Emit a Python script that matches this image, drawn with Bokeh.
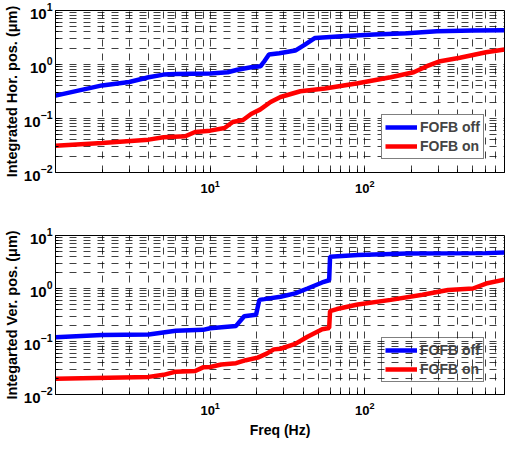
from bokeh.plotting import figure
from bokeh.layouts import column
from bokeh.models import FixedTicker, Range1d
from bokeh.embed import file_html
from bokeh.resources import INLINE

# ---- data ----
hor_off_f = [1, 2, 3, 4, 5, 6, 10, 13, 15, 18.4, 21.2, 22.4, 24, 28, 35.5, 41, 47.7, 70.6, 115, 188, 292, 500, 800]
hor_off_v = [0.265, 0.41, 0.475, 0.58, 0.65, 0.67, 0.68, 0.72, 0.80, 0.89, 0.93, 1.15, 1.53, 1.62, 1.81, 2.34, 3.1, 3.34, 3.59, 3.8, 4.14, 4.26, 4.3]

hor_on_f = [1, 2, 4, 5, 6.9, 8, 10, 12.4, 14, 16.3, 18.4, 21, 24.6, 28.5, 38.3, 55.2, 90, 147, 207, 252, 307, 412, 608, 800]
hor_on_v = [0.0313, 0.0352, 0.0406, 0.0448, 0.0468, 0.0563, 0.0596, 0.0667, 0.086, 0.094, 0.121, 0.146, 0.202, 0.25, 0.32, 0.358, 0.45, 0.58, 0.72, 0.93, 1.15, 1.33, 1.69, 1.89]

ver_off_f = [1, 2, 4, 6, 9, 10, 14.7, 16.6, 19.8, 20.8, 22.4, 28.5, 35.5, 42.6, 53, 58.8, 59.6, 90, 188, 608, 800]
ver_off_v = [0.12, 0.132, 0.136, 0.159, 0.166, 0.178, 0.197, 0.30, 0.32, 0.61, 0.63, 0.70, 0.81, 1.0, 1.30, 1.43, 3.98, 4.27, 4.59, 4.65, 4.8]

ver_on_f = [1, 4, 5, 6, 8, 9, 10, 11.8, 14.7, 17, 20.3, 23.2, 25.8, 28.5, 35.5, 42.6, 53, 58.8, 59.6, 66, 90, 147, 236, 345, 500, 608, 800]
ver_on_v = [0.0198, 0.0215, 0.0235, 0.027, 0.0277, 0.0325, 0.033, 0.0369, 0.039, 0.0444, 0.0497, 0.059, 0.071, 0.073, 0.09, 0.123, 0.17, 0.18, 0.373, 0.41, 0.50, 0.61, 0.76, 0.94, 1.0, 1.24, 1.47]

x_major = [10, 100]
x_minor = [2, 3, 4, 5, 6, 7, 8, 9, 20, 30, 40, 50, 60, 70, 80, 90, 200, 300, 400, 500, 600, 700, 800]
y_major = [0.01, 0.1, 1, 10]
y_minor = [k * 10.0 ** e for e in (-2, -1, 0) for k in range(2, 10)]

FONT = "Liberation Sans"


def make_fig(height, btop, bbot, ylabel, xlabel):
    p = figure(width=506, height=height, x_axis_type="log", y_axis_type="log",
               x_range=Range1d(1, 800), y_range=Range1d(0.01, 10),
               output_backend="svg", toolbar_location=None,
               min_border_left=49, min_border_right=2,
               min_border_top=btop, min_border_bottom=bbot)
    p.xaxis.ticker = FixedTicker(ticks=x_major, minor_ticks=x_minor)
    p.yaxis.ticker = FixedTicker(ticks=y_major, minor_ticks=y_minor)
    for ax in (p.xaxis[0], p.yaxis[0]):
        ax.major_tick_in = 5
        ax.major_tick_out = 0
        ax.minor_tick_in = 3
        ax.minor_tick_out = 0
        ax.axis_line_color = "black"
        ax.major_tick_line_color = "black"
        ax.minor_tick_line_color = "black"
        ax.major_label_text_font = FONT
        ax.major_label_text_font_style = "bold"
        ax.major_label_text_color = "black"
        ax.axis_label_text_font = FONT
        ax.axis_label_text_font_style = "bold"
        ax.axis_label_text_color = "black"
    p.xaxis.major_label_text_font_size = "13px"
    p.yaxis.major_label_text_font_size = "15px"
    p.xaxis.axis_label_text_font_size = "14px"
    p.yaxis.axis_label_text_font_size = "14.5px"
    p.yaxis.major_label_standoff = 3
    p.xaxis.major_label_standoff = 7
    p.yaxis.axis_label_standoff = 1
    p.xaxis.axis_label_standoff = 4
    p.yaxis.axis_label = ylabel
    if xlabel:
        p.xaxis.axis_label = xlabel
    for g in (p.xgrid[0], p.ygrid[0]):
        g.grid_line_color = "black"
        g.grid_line_alpha = 0.75
        g.grid_line_dash = "7 7"
        g.minor_grid_line_color = "black"
        g.minor_grid_line_alpha = 0.75
        g.minor_grid_line_dash = "7 7"
    p.outline_line_color = "black"
    p.outline_line_alpha = 1
    p.background_fill_color = "white"
    return p


top = make_fig(212, 10, 40, "Integrated Hor. pos. (\u03bcm)", None)
top.line(hor_off_f, hor_off_v, color="#0000ff", line_width=4.5, legend_label="FOFB off")
top.line(hor_on_f, hor_on_v, color="#ff0000", line_width=4.5, legend_label="FOFB on")

bot = make_fig(228, 23, 43, "Integarted Ver. pos. (\u03bcm)", "Freq (Hz)")
bot.line(ver_off_f, ver_off_v, color="#0000ff", line_width=4.5, legend_label="FOFB off")
bot.line(ver_on_f, ver_on_v, color="#ff0000", line_width=4.5, legend_label="FOFB on")

for p, loc, alpha in ((top, (326, 13), 1.0), (bot, (326, 12), 0.0)):
    lg = p.legend[0]
    lg.location = loc
    lg.label_text_font = FONT
    lg.label_text_font_style = "bold"
    lg.label_text_font_size = "14px"
    lg.glyph_width = 32
    lg.glyph_height = 18
    lg.label_height = 18
    lg.label_standoff = 3
    lg.spacing = 1
    lg.padding = 3
    lg.margin = 0
    lg.border_line_color = "black"
    lg.border_line_width = 1
    lg.background_fill_alpha = alpha

layout = column(top, bot)
open("out.html", "w").write(file_html(layout, INLINE))
